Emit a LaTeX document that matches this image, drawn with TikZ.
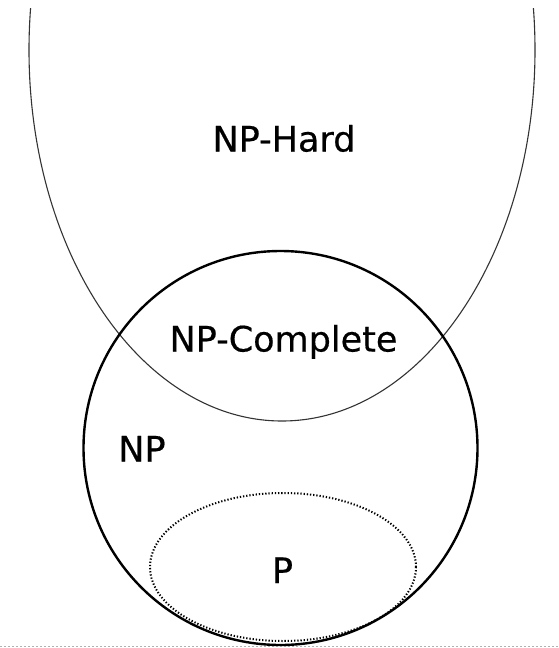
\documentclass[tikz,border=0pt]{standalone}
\usepackage{fontspec}
\newfontfamily\lblfont{DejaVu Sans}[FakeBold=0.5]
\tikzset{
  hardset/.style={draw=black!80, line width=1.1pt},
  npset/.style={draw=black, line width=2.4pt},
  pset/.style={draw=black, line width=2pt, dash pattern=on 1.3pt off 1.9pt},
  baseline/.style={draw=black!30, line width=1pt, dash pattern=on 1.5pt off 2.5pt},
  lbl/.style={font=\lblfont\fontsize{35}{40}\selectfont, inner sep=0pt, anchor=base}
}
\begin{document}
\begin{tikzpicture}[x=1pt, y=-1pt]
  \useasboundingbox (0,0) rectangle (558,648);
  \fill[white] (0,0) rectangle (558,648);
  \begin{scope}
    \clip (0,8) rectangle (558,648);
    % NP-Hard
    \draw[hardset] (282,50) ellipse [x radius=253pt, y radius=371pt];
  \end{scope}
  % faint bottom line
  \draw[baseline] (0,646) -- (558,646);
  % P (clipped to NP circle)
  \begin{scope}
    \clip (280.5,448) circle [radius=197pt];
    \draw[pset] (283,567) ellipse [x radius=133pt, y radius=74pt];
  \end{scope}
  % NP circle
  \draw[npset] (280.5,448) circle [radius=197pt];
  % labels
  \node[lbl] (hard) at (284,151.5) {NP-Hard};
  \node[lbl] (complete) at (283.5,351.5) {NP-Complete};
  \node[lbl] (np) at (142,461.5) {NP};
  \node[lbl] (p) at (282.5,583) {P};
\end{tikzpicture}
\end{document}
